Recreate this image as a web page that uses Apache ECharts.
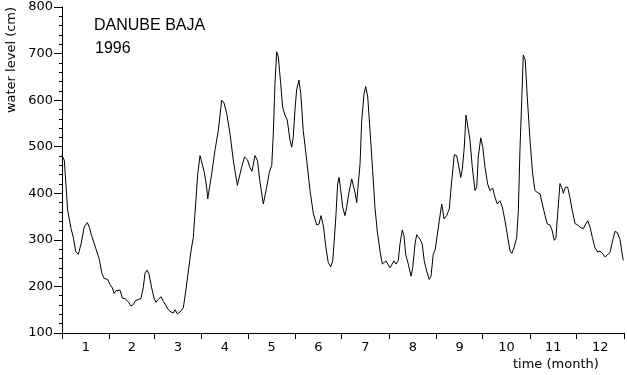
<!DOCTYPE html>
<html>
<head>
<meta charset="utf-8">
<script src="https://cdn.jsdelivr.net/npm/echarts@6/dist/echarts.min.js"></script>
<style>
html,body{margin:0;padding:0;background:#fff;}
#chart{width:627px;height:375px;}
</style>
</head>
<body>
<div id="chart"></div>
<script>
// Day of year (0 = 1 Jan 1996) and water level (cm)
var days = [0,1.5,3.7,5.9,7.4,8.9,10.6,12.4,14.5,16.5,17.8,19.3,21.5,24.3,25.9,27.5,29.8,31.3,32.8,33.9,35.2,37.8,39.3,41.0,43.2,44.9,46.4,48.0,49.7,51.4,52.9,54.1,55.4,56.7,58.4,59.9,61.2,62.7,64.5,66.0,67.5,69.2,71.0,72.5,73.6,75.1,76.8,79.0,80.6,82.3,84.0,85.5,87.1,88.4,89.9,91.0,92.7,94.2,94.9,96.2,97.5,99.6,101.8,104.0,105.5,107.3,109.4,111.6,114.2,115.5,117.0,118.9,120.8,122.4,123.7,125.7,127.3,128.9,131.1,132.2,133.3,135.0,136.6,137.6,138.7,139.8,140.9,142.4,143.7,145.2,146.7,148.5,149.6,150.6,151.7,152.8,154.3,155.5,157.1,159.4,161.5,163.7,165.9,167.4,168.7,170.2,171.9,173.4,175.0,176.3,177.3,178.4,179.5,180.4,181.4,182.8,184.3,185.4,186.7,188.7,189.7,191.0,191.9,193.0,194.1,195.2,196.7,197.8,199.1,200.6,202.3,203.8,205.3,207.1,208.6,209.7,211.0,212.1,213.6,214.9,216.2,217.5,219.0,220.1,221.6,222.7,223.8,225.5,227.3,228.4,229.9,231.0,233.2,234.6,235.9,237.5,239.2,240.3,241.8,243.1,244.4,245.7,247.3,248.8,250.5,252.2,253.8,255.5,257.0,258.5,259.7,260.7,262.0,263.1,264.2,265.7,267.2,269.0,270.1,271.1,272.7,274.0,275.5,277.2,278.7,280.5,282.0,283.5,285.2,286.8,288.5,290.3,291.8,292.9,294.4,296.1,297.2,298.3,299.4,300.4,301.7,303.0,304.8,306.5,308.0,309.5,311.3,312.8,314.6,316.1,317.8,319.3,320.6,321.7,322.8,324.3,325.4,326.5,327.8,329.3,330.8,332.3,334.1,335.9,337.4,339.5,341.1,342.4,343.9,345.4,347.1,348.9,350.4,352.1,353.8,355.4,356.9,358.6,360.1,361.6,363.4,364.5,365.5];
var levels = [481,471,363,324,305,275,269,291,328,337,327,309,287,258,229,217,215,204,197,185,191,192,175,174,167,158,161,170,172,174,197,229,235,226,197,175,166,172,178,168,160,150,145,143,150,141,145,154,190,233,276,305,380,442,481,479,445,413,388,388,442,492,535,600,594,571,528,470,417,420,456,478,472,455,447,481,470,425,377,373,413,445,460,528,636,704,693,636,585,568,557,514,499,521,578,622,643,614,535,470,406,356,332,334,352,330,283,251,242,255,298,352,420,434,410,370,352,370,399,431,417,399,380,384,463,557,614,629,607,535,449,370,319,276,248,244,255,255,240,240,255,248,255,291,321,309,269,248,222,240,291,311,301,291,255,233,215,222,269,280,282,341,377,345,352,366,427,483,481,456,434,452,499,568,564,514,456,406,413,478,519,499,456,420,406,411,391,377,384,370,341,305,276,271,283,305,363,499,600,697,686,607,514,442,406,402,399,377,352,334,332,319,299,305,356,421,413,400,413,413,391,363,335,332,327,324,334,341,327,305,283,274,276,270,263,269,273,298,318,316,301,276,256];
var monthStarts = [0,31,60,91,121,152,182,213,244,274,305,335,366];
var monthLabels = ['1','2','3','4','5','6','7','8','9','10','11','12'];
var yTicks = [100,200,300,400,500,600,700,800];

var midMonths = [];
for (var i = 0; i < 12; i++) midMonths.push((monthStarts[i] + monthStarts[i+1]) / 2);
var seriesData = days.map(function (d, i) { return [d, levels[i]]; });

var chart = echarts.init(document.getElementById('chart'), null, {renderer: 'canvas'});
var tickFont = 'DejaVu Sans, sans-serif';
var titleFont = 'Liberation Sans, Arial, sans-serif';
chart.setOption({
  animation: false,
  backgroundColor: '#fff',
  grid: {left: 62, right: 3, top: 7, bottom: 42, containLabel: false},
  xAxis: {
    type: 'value', min: 0, max: 366,
    axisLine: {show: true, onZero: false, lineStyle: {color: '#000', width: 1}},
    axisTick: {show: true, length: 6, customValues: monthStarts, lineStyle: {color: '#000'}},
    axisLabel: {
      customValues: midMonths, color: '#000', fontSize: 13, fontFamily: tickFont, margin: 8,
      formatter: function (v) {
        for (var i = 0; i < 12; i++) if (Math.abs(v - midMonths[i]) < 0.01) return monthLabels[i];
        return '';
      }
    },
    splitLine: {show: false}
  },
  yAxis: {
    type: 'value', min: yTicks[0], max: yTicks[yTicks.length - 1], interval: 100,
    axisLine: {show: true, lineStyle: {color: '#000', width: 1}},
    axisTick: {show: true, length: 8, lineStyle: {color: '#000'}},
    minorTick: {show: true, splitNumber: 5, length: 3, lineStyle: {color: '#000'}},
    axisLabel: {color: '#000', fontSize: 13, fontFamily: tickFont, margin: 9},
    splitLine: {show: false},
    minorSplitLine: {show: false}
  },
  graphic: [
    {type: 'text', left: 94, top: 18, style: {text: 'DANUBE BAJA', fill: '#000', font: '16px ' + titleFont}},
    {type: 'text', left: 95, top: 41, style: {text: '1996', fill: '#000', font: '16px ' + titleFont}},
    {type: 'text', left: 513, top: 358, style: {text: 'time (month)', fill: '#000', font: '13px ' + tickFont}},
    {type: 'text', x: 12, y: 60, rotation: Math.PI / 2,
     style: {text: 'water level (cm)', fill: '#000', font: '13px ' + tickFont, align: 'center', verticalAlign: 'middle'}}
  ],
  series: [{
    type: 'line', data: seriesData, showSymbol: false, symbol: 'none',
    lineStyle: {color: '#000', width: 1}, smooth: false
  }]
});
</script>
</body>
</html>
